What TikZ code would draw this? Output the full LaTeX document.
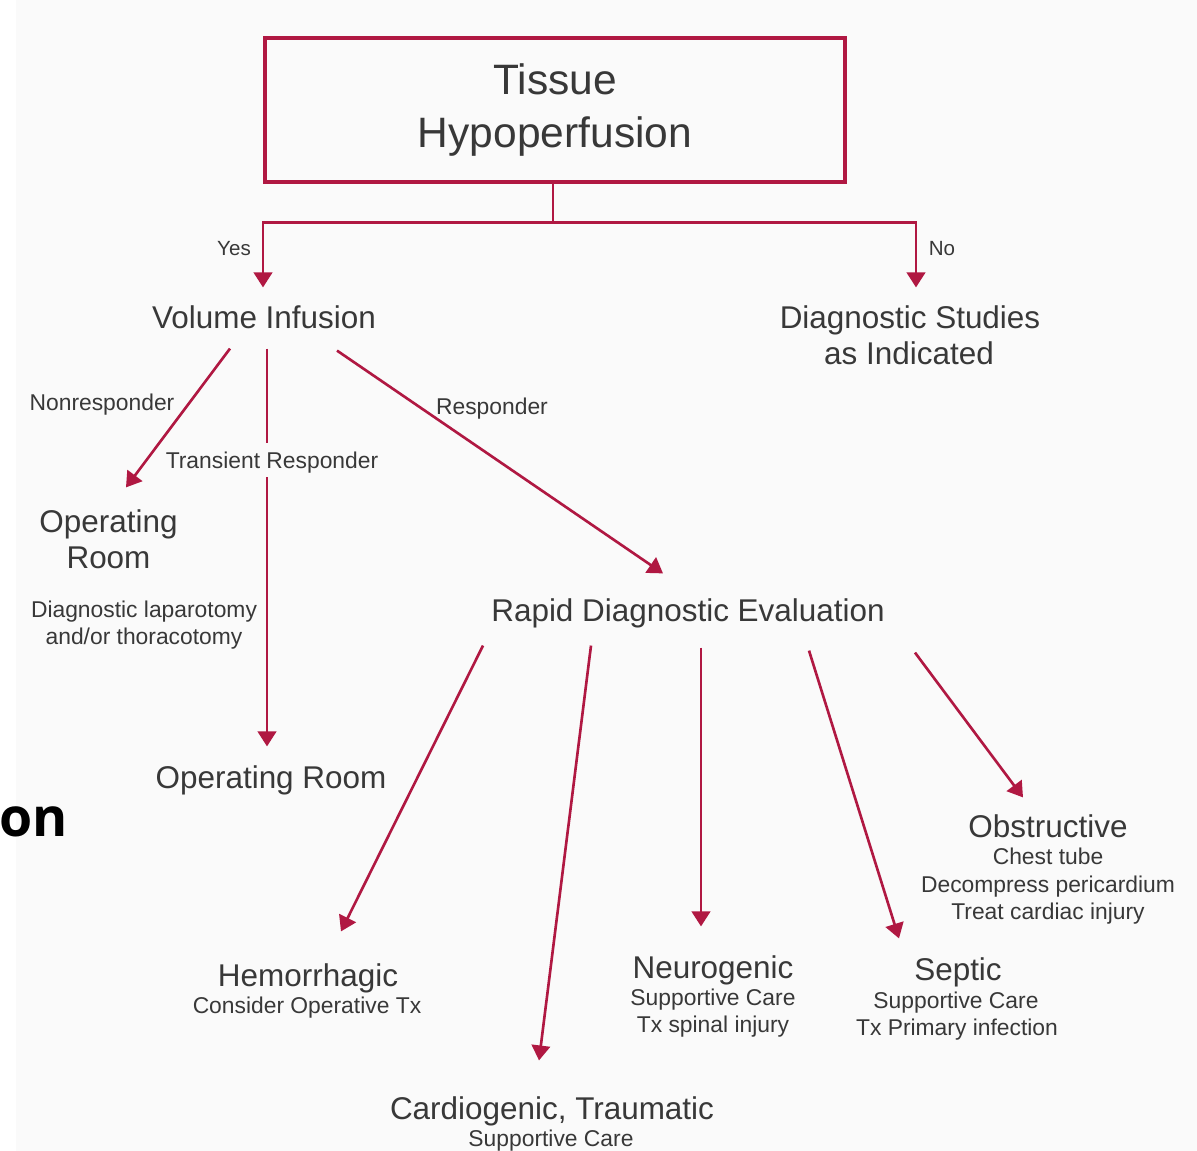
\documentclass[tikz,border=0pt]{standalone}
\usepackage{fontspec}
\setmainfont{Liberation Sans}
\newfontfamily\slidefont{Open Sans}
\usetikzlibrary{arrows.meta}
\definecolor{crim}{RGB}{176,24,66}
\definecolor{ink}{HTML}{383838}
\definecolor{paper}{HTML}{FAFAFA}

\begin{document}
\begin{tikzpicture}[x=0.02cm,y=-0.02cm,
    big/.style={font=\fontsize{17.9}{21}\selectfont,text=ink,inner sep=0pt,text height=12.8pt,text depth=0pt},
    small/.style={font=\fontsize{13}{15}\selectfont,text=ink,inner sep=0pt,text height=9.3pt,text depth=0pt},
    tiny/.style={font=\fontsize{11.7}{14}\selectfont,text=ink,inner sep=0pt,text height=8.4pt,text depth=0pt},
    flow/.style={draw=crim,line width=1.5pt},
    arr/.style={flow,-{Triangle[length=8.5pt,width=10.5pt]}}]
\useasboundingbox (0,0) rectangle (1197,1151);
\fill[paper] (0,0) rectangle (1197,1151);
\fill[white] (0,0) rectangle (16,1151);
\node[draw=crim,line width=1.8pt,minimum width=11.6cm,minimum height=2.88cm,align=center,text=ink,
    font=\fontsize{24.2}{30.2}\selectfont] (tissue) at (555,110) {Tissue\\Hypoperfusion};
\node[big] (vol) at (264,317) {Volume Infusion};
\node[big] (diag) at (910,317) {Diagnostic Studies};
\node[big] (diagB) at (909,353) {as Indicated};
\node[big] (opr) at (108.5,521) {Operating};
\node[big] (oprB) at (108.5,557) {Room};
\node[small] (lapA) at (144,609) {Diagnostic laparotomy};
\node[small] (lapB) at (144,636) {and/or thoracotomy};
\node[big] (orm) at (271,777) {Operating Room};
\node[big] (rde) at (688,610) {Rapid Diagnostic Evaluation};
\node[big] (hem) at (308,975) {Hemorrhagic};
\node[small] (hemA) at (307,1005) {Consider Operative Tx};
\node[big] (car) at (552,1108) {Cardiogenic, Traumatic};
\node[small] (carA) at (551,1138) {Supportive Care};
\node[big] (neu) at (713,967) {Neurogenic};
\node[small] (neuA) at (713,997) {Supportive Care};
\node[small] (neuB) at (713,1024) {Tx spinal injury};
\node[big] (sep) at (958,969) {Septic};
\node[small] (sepA) at (956,1000) {Supportive Care};
\node[small] (sepB) at (957,1027) {Tx Primary infection};
\node[big] (obs) at (1048,826) {Obstructive};
\node[small] (obsA) at (1048,856) {Chest tube};
\node[small] (obsB) at (1048,884) {Decompress pericardium};
\node[small] (obsC) at (1048,911) {Treat cardiac injury};
\node[anchor=base west,inner sep=0pt,font=\slidefont\fontsize{30.5}{34}\selectfont\bfseries] (cut) at (-1,836) {on};
\draw[flow] ([shift={(-2,0)}]tissue.south) -- ++(0,39) coordinate (fork);
\draw[arr] (fork) -| ([shift={(-1,-18)}]vol.north);
\draw[arr] (fork) -| ([shift={(6,-18)}]diag.north);
\draw[arr] ([shift={(-34,20)}]vol.south) -- ([shift={(17.5,-22)}]opr.north);
\draw[arr] ([shift={(3,20)}]vol.south) -- ([shift={(-4,-19)}]orm.north);
\draw[arr] ([shift={(73,22)}]vol.south) -- ([shift={(-25,-25)}]rde.north);
\draw[arr] ([shift={(-205,24)}]rde.south) -- ([shift={(33,-32)}]hem.north);
\draw[arr] ([shift={(-97,24)}]rde.south) -- ([shift={(-13,-36)}]car.north);
\draw[arr] ([shift={(13,26)}]rde.south) -- ([shift={(-12,-29)}]neu.north);
\draw[arr] ([shift={(121,29)}]rde.south) -- ([shift={(-59,-19)}]sep.north);
\draw[arr] ([shift={(227,31)}]rde.south) -- ([shift={(-25,-17)}]obs.north);
\node[tiny] (yes) at (234,248) {Yes};
\node[tiny] (no) at (942,248) {No};
\node[small] (nonr) at (102,402) {Nonresponder};
\node[small,fill=paper,inner ysep=4.8pt] (trans) at (272,460) {Transient Responder};
\node[small] (resp) at (492,406) {Responder};
\end{tikzpicture}
\end{document}
